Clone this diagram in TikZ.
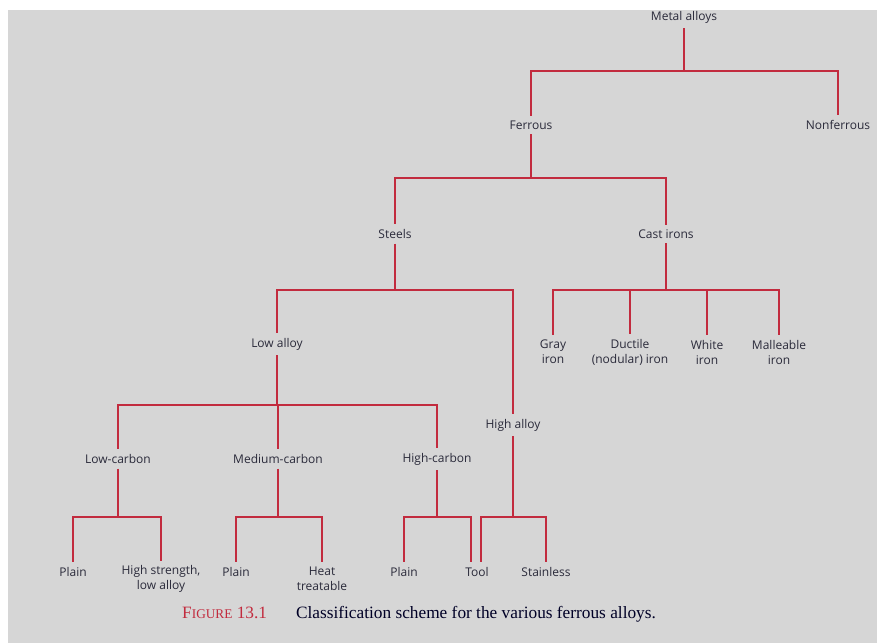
\documentclass[tikz,border=0pt]{standalone}
\usepackage{fontspec}
\usepackage{xcolor}
\setmainfont{Liberation Serif}
\newfontfamily\labelfont{Open Sans}

\definecolor{branchred}{HTML}{C22B3E}
\definecolor{labelgray}{HTML}{2A2A3A}
\definecolor{panelgray}{HTML}{D6D6D6}

\begin{document}
\begin{tikzpicture}[x=1pt, y=-1pt,
    lbl/.style={font=\labelfont\fontsize{12}{15}\selectfont, text=labelgray,
        align=center, inner sep=1pt, outer sep=4pt},
    branch/.style={draw=branchred, line width=1.6pt}]
    \useasboundingbox (0, 0) rectangle (877, 643);
    \fill[panelgray] (8, 10) rectangle (877, 643);

    % classes, top to bottom
    \node[lbl] at (684, 17) (metal) {Metal alloys};
    \node[lbl] at (531, 125) (ferrous) {Ferrous};
    \node[lbl] at (838, 125) (nonferrous) {Nonferrous};
    \node[lbl] at (395, 234) (steels) {Steels};
    \node[lbl] at (666, 234) (castirons) {Cast irons};
    \node[lbl] at (553, 352) (gray) {Gray\\iron};
    \node[lbl] at (630, 352) (ductile) {Ductile\\(nodular) iron};
    \node[lbl] at (707, 352) (white) {White\\iron};
    \node[lbl] at (779, 352) (malleable) {Malleable\\iron};
    \node[lbl] at (277, 344) (lowalloy) {Low alloy};
    \node[lbl] at (513, 425) (highalloy) {High alloy};
    \node[lbl] at (118, 459) (lowcarbon) {Low-carbon};
    \node[lbl] at (278, 459) (medcarbon) {Medium-carbon};
    \node[lbl] at (437, 459) (highcarbon) {High-carbon};
    \node[lbl] at (73, 572) (plainlc) {Plain};
    \node[lbl] at (161, 579) (hsla) {High strength,\\low alloy};
    \node[lbl] at (236, 572) (plainmc) {Plain};
    \node[lbl] at (322, 579) (heat) {Heat\\treatable};
    \node[lbl] at (404, 572) (plainhc) {Plain};
    \node[lbl] at (477, 572) (tool) {Tool};
    \node[lbl] at (546, 572) (stainless) {Stainless};

    % bus junctions
    \coordinate (jm) at (684, 71);
    \coordinate (jf) at (531, 178);
    \coordinate (js) at (395, 290);
    \coordinate (jc) at (666, 290);
    \coordinate (jl) at (277, 405);
    \coordinate (jlc) at (118, 517);
    \coordinate (jmc) at (278, 517);
    \coordinate (jhc) at (437, 517);
    \coordinate (jha) at (513, 517);

    \draw[branch] (metal) -- (jm);
    \draw[branch] (jm) -| (ferrous);
    \draw[branch] (jm) -| (nonferrous);

    \draw[branch] (ferrous) -- (jf);
    \draw[branch] (jf) -| (steels);
    \draw[branch] (jf) -| (castirons);

    \draw[branch] (steels) -- (js);
    \draw[branch] (js) -| (lowalloy);
    \draw[branch] (js) -| (highalloy);

    \draw[branch] (castirons) -- (jc);
    \draw[branch] (jc) -| (gray);
    \draw[branch] (jc) -| (ductile);
    \draw[branch] (jc) -| (white);
    \draw[branch] (jc) -| (malleable);

    \draw[branch] (lowalloy) -- (jl);
    \draw[branch] (jl) -| (lowcarbon);
    \draw[branch] (jl) -| (medcarbon);
    \draw[branch] (jl) -| (highcarbon);

    \draw[branch] (lowcarbon) -- (jlc);
    \draw[branch] (jlc) -| (plainlc);
    \draw[branch] (jlc) -| (hsla);

    \draw[branch] (medcarbon) -- (jmc);
    \draw[branch] (jmc) -| (plainmc);
    \draw[branch] (jmc) -| (heat);

    \draw[branch] (highcarbon) -- (jhc);
    \draw[branch] (jhc) -| (plainhc);
    \draw[branch] (jhc) -| ([xshift=-6pt]tool.north);

    \draw[branch] (highalloy) -- (jha);
    \draw[branch] (jha) -| ([xshift=4pt]tool.north);
    \draw[branch] (jha) -| (stainless);

    \node[anchor=west, inner sep=0pt, text=black!85!blue] at (182, 614) (caption)
        {\fontsize{17.3}{20}\selectfont{\color{branchred}F{\fontsize{13.3}{16}\selectfont IGURE}
         13.1}\hspace{29pt}Classification scheme for the various ferrous alloys.};
\end{tikzpicture}
\end{document}
